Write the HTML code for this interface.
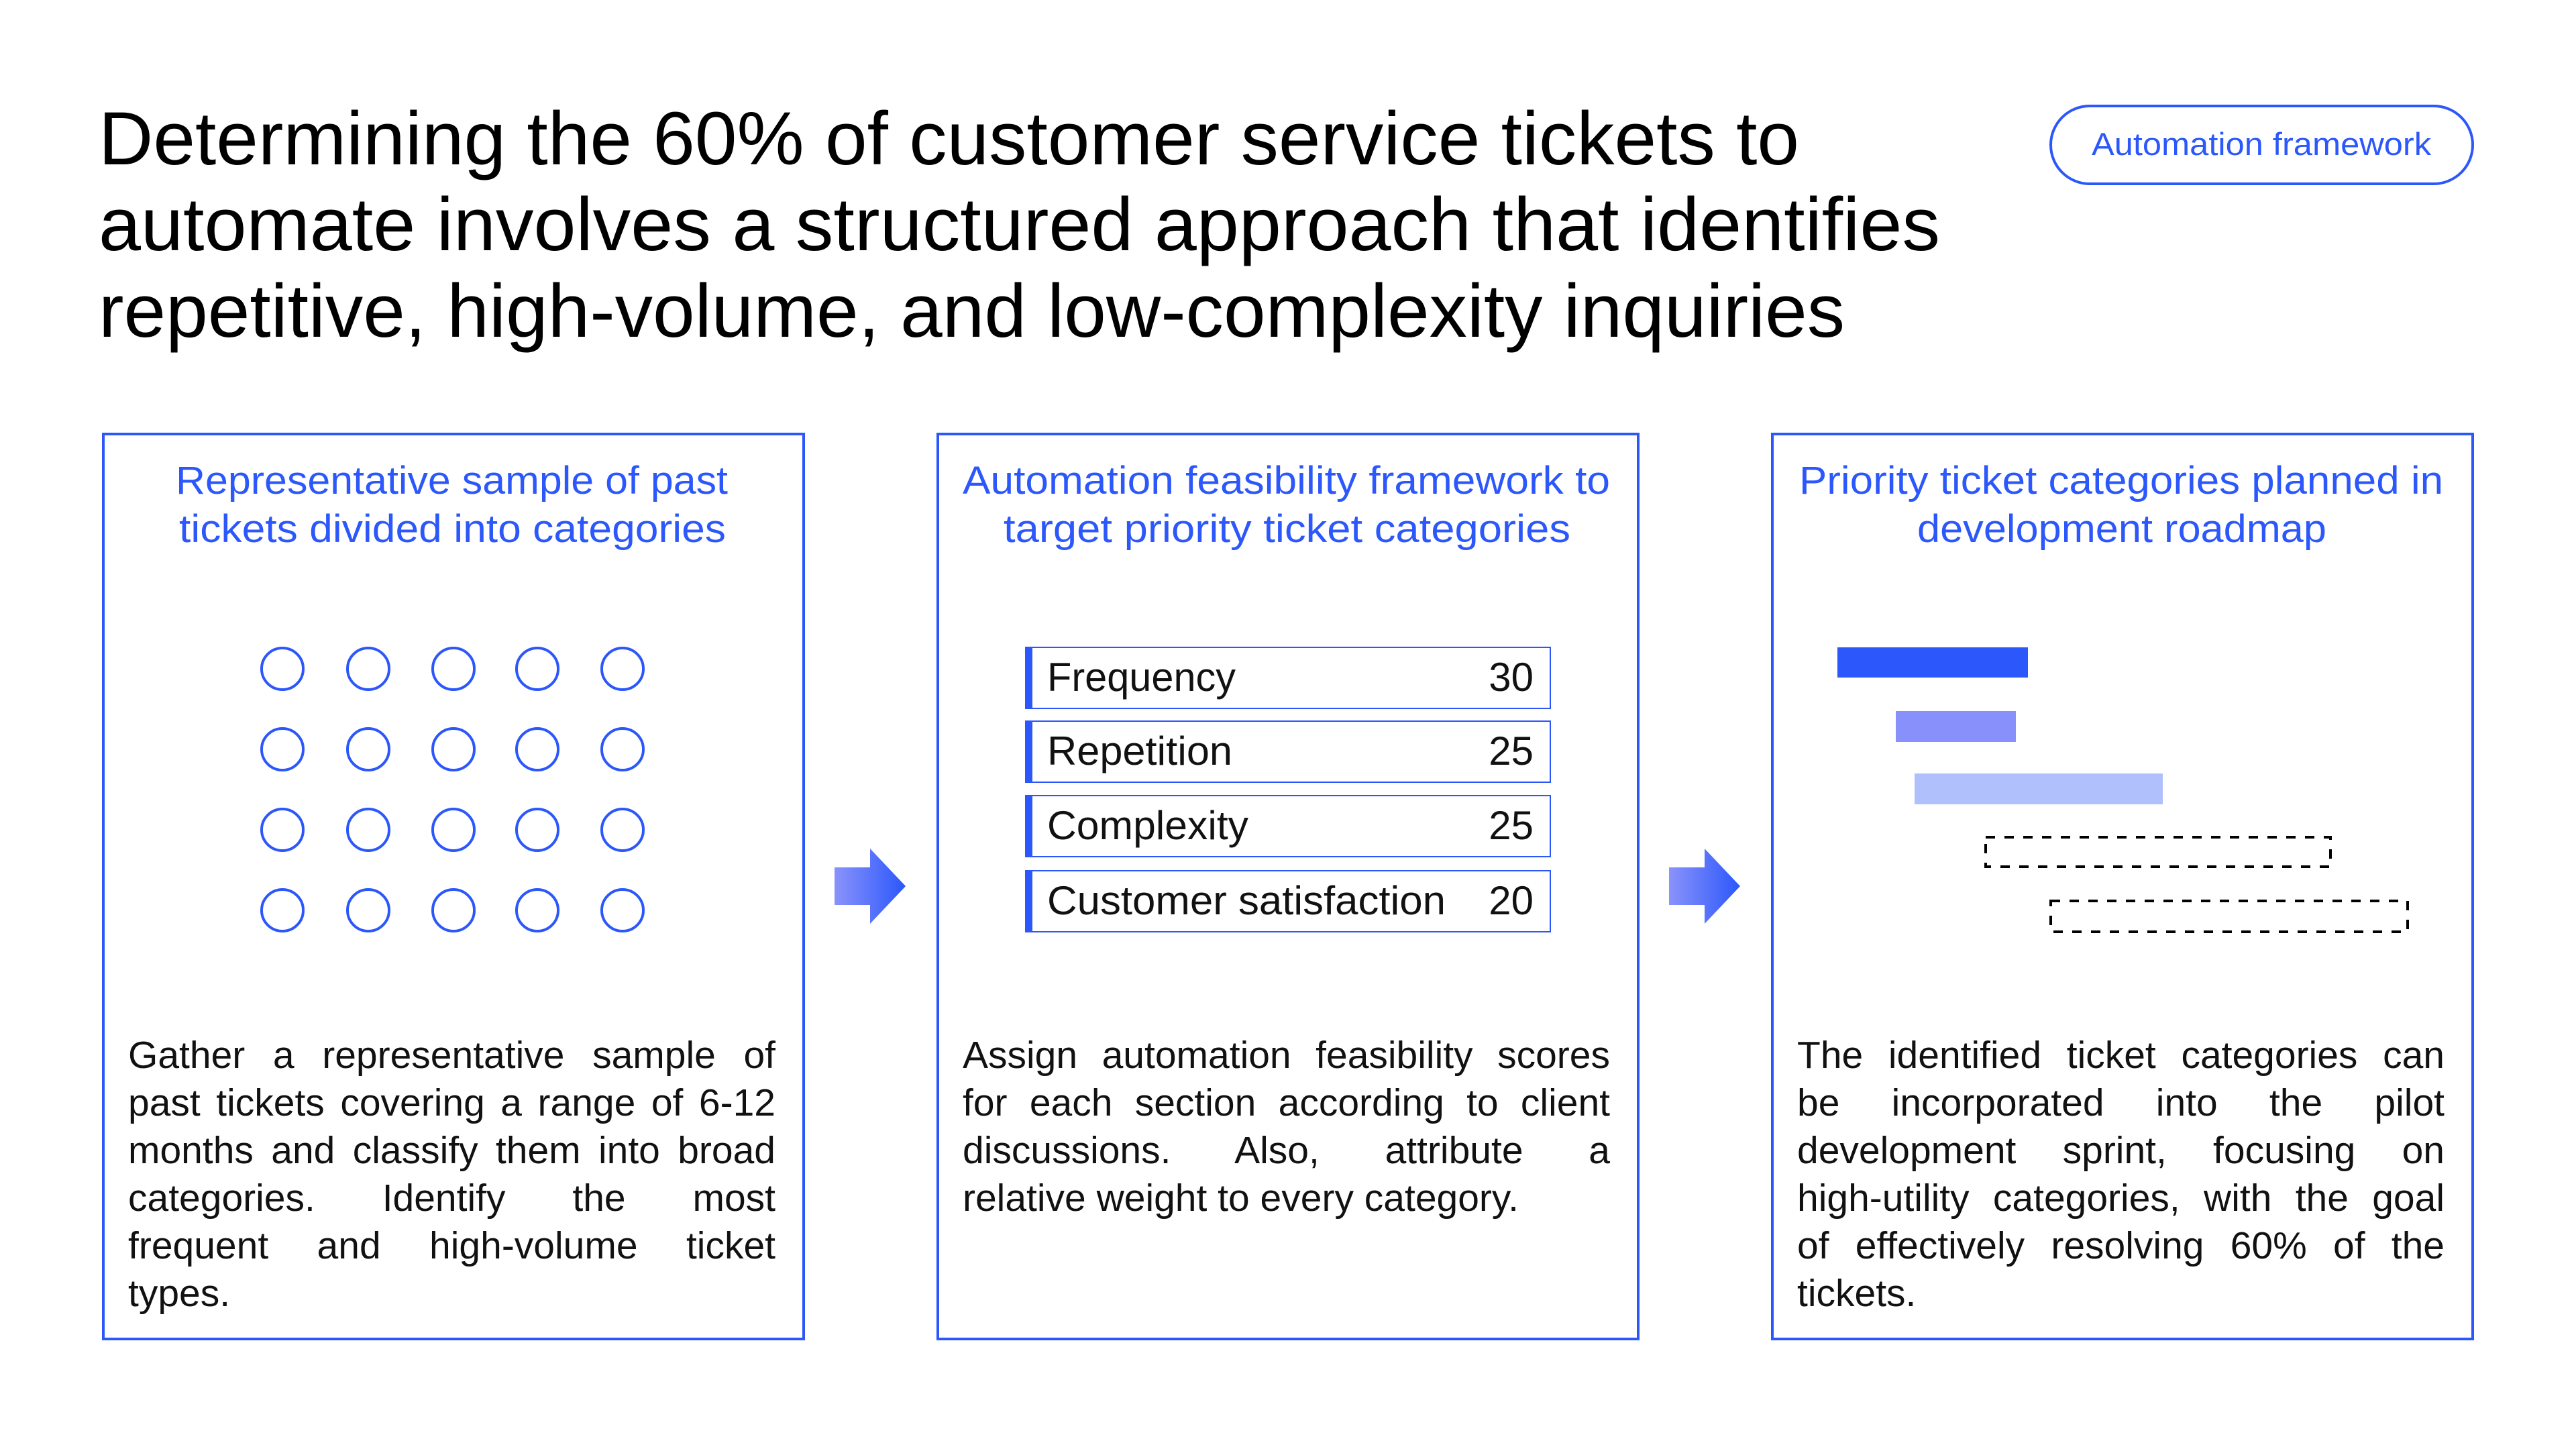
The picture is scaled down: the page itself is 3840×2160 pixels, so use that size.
<!DOCTYPE html>
<html><head><meta charset="utf-8"><style>
html,body{margin:0;padding:0;background:#fff;width:3840px;height:2160px;overflow:hidden;position:relative}
svg{display:block;position:absolute;left:0;top:0}
text{font-family:"Liberation Sans",sans-serif}
.j{position:absolute;width:965px;font-family:"Liberation Sans",sans-serif;font-size:57px;line-height:71px;color:#111;text-align:justify;text-align-last:justify;white-space:nowrap;height:71px}
.n{text-align:left;text-align-last:left}
</style></head><body>
<svg width="3840" height="2160" viewBox="0 0 3840 2160" xmlns="http://www.w3.org/2000/svg">
<defs>
<linearGradient id="ag" x1="0" x2="1" y1="0" y2="0">
<stop offset="0" stop-color="#8a93fb"/><stop offset="1" stop-color="#2b57fb"/>
</linearGradient>
</defs>
<g fill="#000" font-size="112">
<text x="147" y="245" textLength="2535" lengthAdjust="spacingAndGlyphs">Determining the 60% of customer service tickets to</text>
<text x="147" y="373" textLength="2745" lengthAdjust="spacingAndGlyphs">automate involves a structured approach that identifies</text>
<text x="147" y="502" textLength="2603" lengthAdjust="spacingAndGlyphs">repetitive, high-volume, and low-complexity inquiries</text>
</g>
<rect x="3057" y="158" width="629" height="116" rx="58" fill="none" stroke="#2b57fb" stroke-width="4"/>
<text x="3371" y="231" font-size="47" fill="#2b57fb" text-anchor="middle" textLength="506" lengthAdjust="spacingAndGlyphs">Automation framework</text>

<g fill="none" stroke="#2b57fb" stroke-width="4">
<rect x="154" y="647" width="1044" height="1349"/>
<rect x="1398" y="647" width="1044" height="1349"/>
<rect x="2642" y="647" width="1044" height="1349"/>
</g>

<g fill="#2b57fb" font-size="58">
<text x="262" y="736" textLength="823" lengthAdjust="spacingAndGlyphs">Representative sample of past</text>
<text x="267" y="808" textLength="815" lengthAdjust="spacingAndGlyphs">tickets divided into categories</text>
<text x="1435" y="736" textLength="965" lengthAdjust="spacingAndGlyphs">Automation feasibility framework to</text>
<text x="1496" y="808" textLength="845" lengthAdjust="spacingAndGlyphs">target priority ticket categories</text>
<text x="2682" y="736" textLength="960" lengthAdjust="spacingAndGlyphs">Priority ticket categories planned in</text>
<text x="2858" y="808" textLength="610" lengthAdjust="spacingAndGlyphs">development roadmap</text>
</g>

<g fill="none" stroke="#2b57fb" stroke-width="4">
<circle cx="421" cy="997" r="31"/><circle cx="549" cy="997" r="31"/><circle cx="676" cy="997" r="31"/><circle cx="801" cy="997" r="31"/><circle cx="928" cy="997" r="31"/>
<circle cx="421" cy="1117" r="31"/><circle cx="549" cy="1117" r="31"/><circle cx="676" cy="1117" r="31"/><circle cx="801" cy="1117" r="31"/><circle cx="928" cy="1117" r="31"/>
<circle cx="421" cy="1237" r="31"/><circle cx="549" cy="1237" r="31"/><circle cx="676" cy="1237" r="31"/><circle cx="801" cy="1237" r="31"/><circle cx="928" cy="1237" r="31"/>
<circle cx="421" cy="1357" r="31"/><circle cx="549" cy="1357" r="31"/><circle cx="676" cy="1357" r="31"/><circle cx="801" cy="1357" r="31"/><circle cx="928" cy="1357" r="31"/>
</g>

<g>
<rect x="1529" y="965" width="782" height="91" fill="none" stroke="#2b57fb" stroke-width="2"/><rect x="1528" y="964" width="11" height="92" fill="#2b57fb"/>
<rect x="1529" y="1075" width="782" height="91" fill="none" stroke="#2b57fb" stroke-width="2"/><rect x="1528" y="1074" width="11" height="92" fill="#2b57fb"/>
<rect x="1529" y="1186" width="782" height="91" fill="none" stroke="#2b57fb" stroke-width="2"/><rect x="1528" y="1185" width="11" height="92" fill="#2b57fb"/>
<rect x="1529" y="1298" width="782" height="91" fill="none" stroke="#2b57fb" stroke-width="2"/><rect x="1528" y="1297" width="11" height="92" fill="#2b57fb"/>
</g>
<g fill="#111" font-size="60">
<text x="1561" y="1030" textLength="281" lengthAdjust="spacingAndGlyphs">Frequency</text>
<text x="1561" y="1140" textLength="276" lengthAdjust="spacingAndGlyphs">Repetition</text>
<text x="1561" y="1251" textLength="300" lengthAdjust="spacingAndGlyphs">Complexity</text>
<text x="1561" y="1363" textLength="594" lengthAdjust="spacingAndGlyphs">Customer satisfaction</text>
<text x="2286" y="1030" text-anchor="end">30</text>
<text x="2286" y="1140" text-anchor="end">25</text>
<text x="2286" y="1251" text-anchor="end">25</text>
<text x="2286" y="1363" text-anchor="end">20</text>
</g>

<rect x="2739" y="965" width="284" height="45" fill="#2b57fb"/>
<rect x="2826" y="1060" width="179" height="46" fill="#8891fb"/>
<rect x="2854" y="1153" width="370" height="46" fill="#b0c0fd"/>
<g fill="none" stroke="#000" stroke-width="4" stroke-dasharray="14 14">
<rect x="2960" y="1248" width="514" height="44"/>
<rect x="3057" y="1343" width="532" height="46"/>
</g>

<path d="M1244 1293 H1297 V1265 L1350 1321 L1297 1377 V1349 H1244 Z" fill="url(#ag)"/>
<path d="M2488 1293 H2541 V1265 L2594 1321 L2541 1377 V1349 H2488 Z" fill="url(#ag)"/>
</svg>

<div class="j" style="left:191px;top:1538px">Gather a representative sample of</div>
<div class="j" style="left:191px;top:1609px">past tickets covering a range of 6-12</div>
<div class="j" style="left:191px;top:1680px">months and classify them into broad</div>
<div class="j" style="left:191px;top:1751px">categories. Identify the most</div>
<div class="j" style="left:191px;top:1822px">frequent and high-volume ticket</div>
<div class="j n" style="left:191px;top:1893px">types.</div>

<div class="j" style="left:1435px;top:1538px">Assign automation feasibility scores</div>
<div class="j" style="left:1435px;top:1609px">for each section according to client</div>
<div class="j" style="left:1435px;top:1680px">discussions. Also, attribute a</div>
<div class="j n" style="left:1435px;top:1751px">relative weight to every category.</div>

<div class="j" style="left:2679px;top:1538px">The identified ticket categories can</div>
<div class="j" style="left:2679px;top:1609px">be incorporated into the pilot</div>
<div class="j" style="left:2679px;top:1680px">development sprint, focusing on</div>
<div class="j" style="left:2679px;top:1751px">high-utility categories, with the goal</div>
<div class="j" style="left:2679px;top:1822px">of effectively resolving 60% of the</div>
<div class="j n" style="left:2679px;top:1893px">tickets.</div>
</body></html>
